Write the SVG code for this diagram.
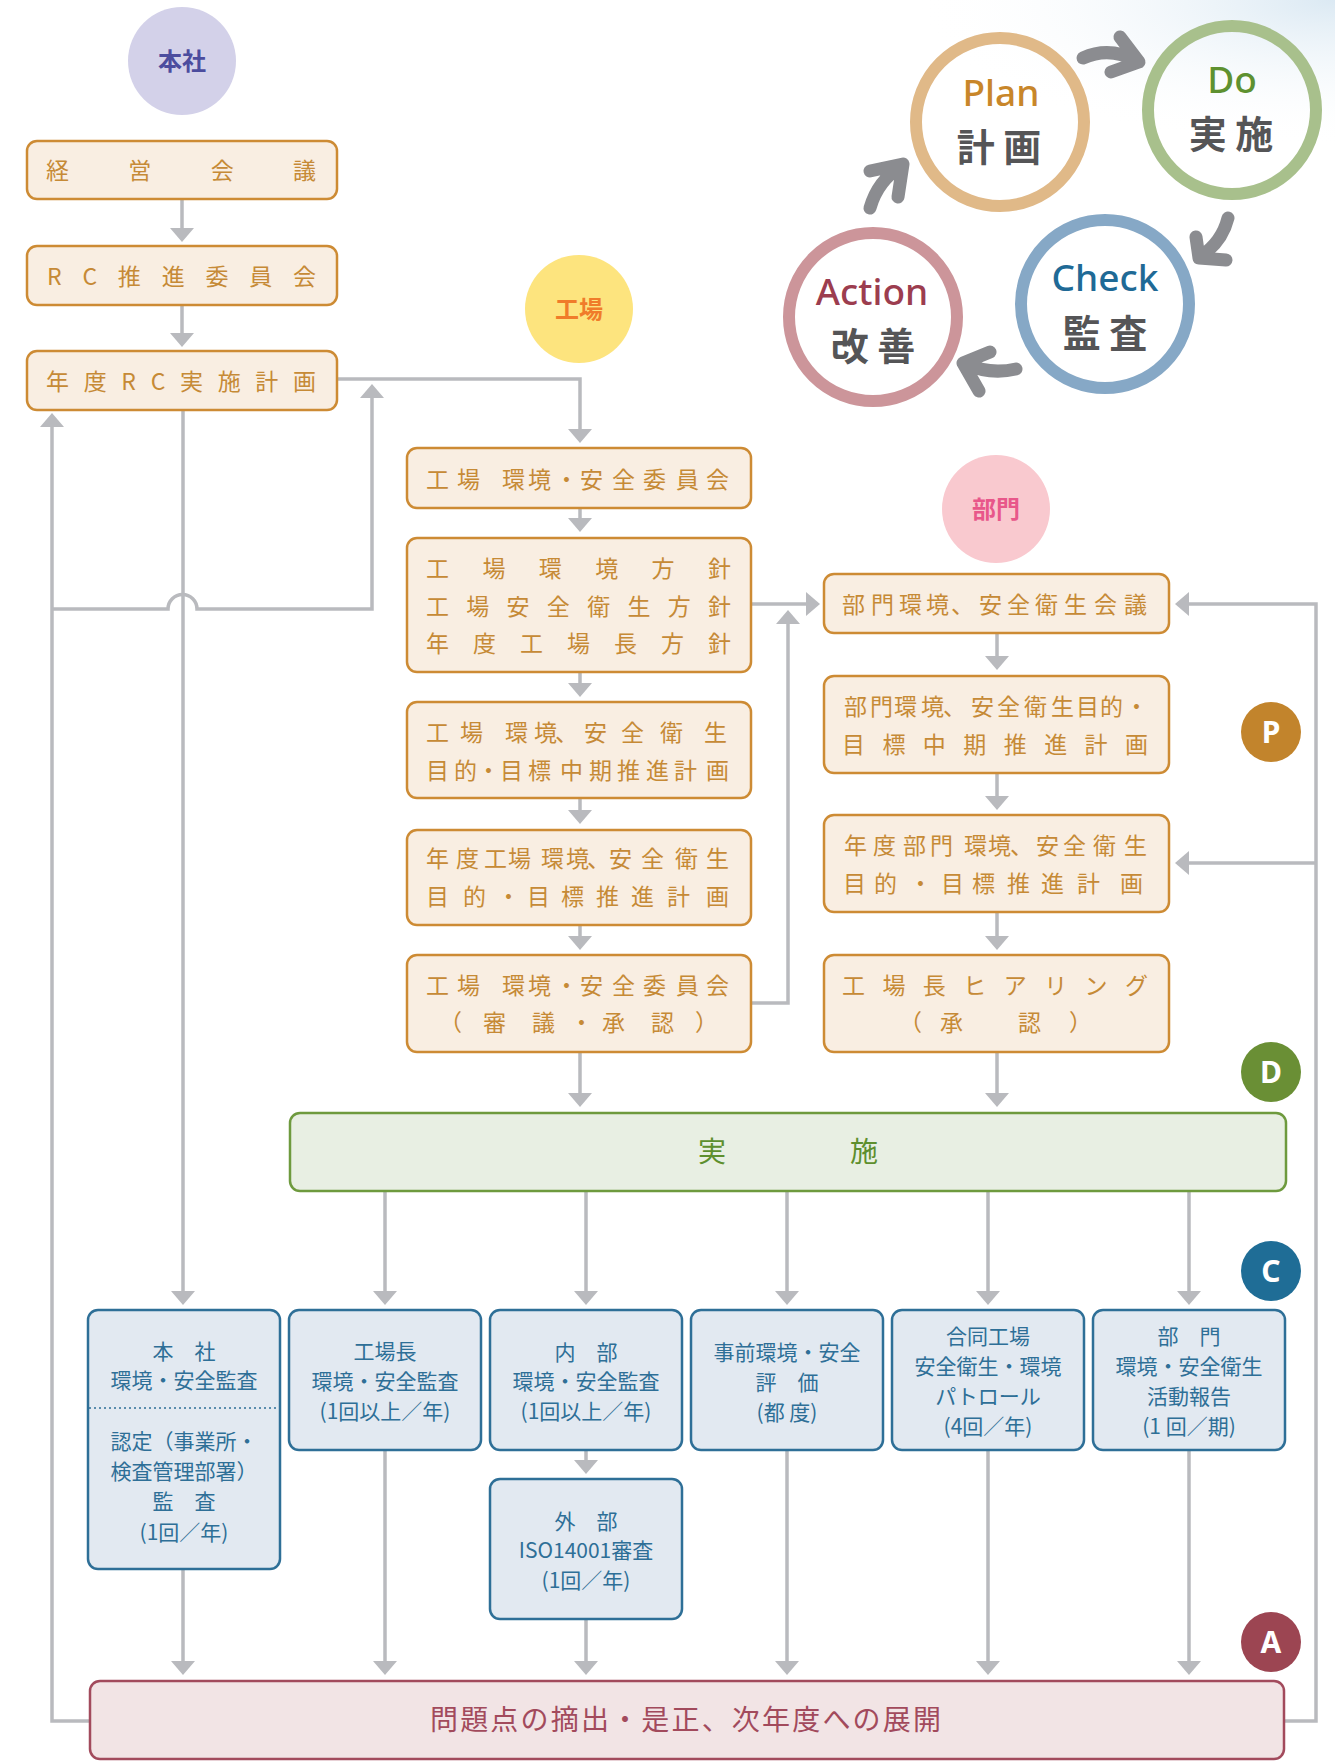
<svg xmlns="http://www.w3.org/2000/svg" width="1335" height="1763" viewBox="0 0 1335 1763">
<defs>
<style>
text{font-family:'Noto Sans CJK JP','Noto Sans',sans-serif;}
.ob{fill:#f9eee2;stroke:#cd8b34;stroke-width:2.5;}
.ot{fill:#c68a36;font-size:23px;}
.bb{fill:#e2e9f1;stroke:#2e6f97;stroke-width:2.5;}
.bt{fill:#2e6f97;font-size:21px;text-anchor:middle;}
.cn{fill:none;stroke:#b9babe;stroke-width:3.5;}
.arr{marker-end:url(#ah);}
.pdca{fill:none;stroke-width:12;}
.ga{fill:none;stroke:#8b8c90;stroke-width:13;stroke-linecap:round;stroke-linejoin:round;}
.lt{font-family:'Noto Sans',sans-serif;font-size:37px;text-anchor:middle;font-weight:500;}
.jt{fill:#555557;font-size:38px;font-weight:700;text-anchor:middle;}
.badge{fill:#fff;font-size:30px;font-weight:700;text-anchor:middle;font-family:'Noto Sans',sans-serif;}
.lbl{font-size:24px;font-weight:700;text-anchor:middle;}
</style>
<marker id="ah" markerUnits="userSpaceOnUse" viewBox="0 0 14 24" refX="2" refY="12" markerWidth="14" markerHeight="24" orient="auto"><path d="M0,0 L14,12 L0,24 Z" fill="#b9babe"/></marker>
<radialGradient id="glow" cx="1335" cy="0" r="420" gradientUnits="userSpaceOnUse" gradientTransform="translate(1335 0) scale(1 0.35) translate(-1335 0)">
<stop offset="0" stop-color="#dbe9f3"/><stop offset="1" stop-color="#ffffff" stop-opacity="0"/>
</radialGradient>
</defs>
<rect x="0" y="0" width="1335" height="1763" fill="#ffffff"/>
<rect x="800" y="0" width="535" height="160" fill="url(#glow)"/>

<!-- PDCA cycle -->
<g id="pdca">
<circle class="pdca" cx="1000" cy="122" r="84" stroke="#e0b988"/>
<circle class="pdca" cx="1232" cy="110" r="84" stroke="#a8c08c"/>
<circle class="pdca" cx="1105" cy="304" r="84" stroke="#86a8c6"/>
<circle class="pdca" cx="873" cy="317" r="84" stroke="#cc959a"/>
<path class="ga" d="M1083,58 Q1110,46 1136,61 M1120,37 L1139,62 L1111,72"/>
<path class="ga" d="M1228,218 Q1222,242 1201,256 M1196,237 L1199,258 L1226,260"/>
<path class="ga" d="M1016,369 Q990,375 966,364 M990,352 L963,363 L979,391"/>
<path class="ga" d="M870,208 Q878,180 902,166 M870,171 L903,164 L898,197"/>
<text class="lt" x="1001" y="106" fill="#c8862a">Plan</text>
<text class="jt" x="999" y="161">計 画</text>
<text class="lt" x="1232" y="93" fill="#5e9130">Do</text>
<text class="jt" x="1231" y="148">実 施</text>
<text class="lt" x="1105" y="291" fill="#1f6a96">Check</text>
<text class="jt" x="1105" y="347">監 査</text>
<text class="lt" x="872" y="305" fill="#9c3d4f">Action</text>
<text class="jt" x="873" y="360">改 善</text>
</g>

<!-- Connectors -->
<g id="connectors">
<path class="cn arr" d="M182,199 V230"/>
<path class="cn arr" d="M182,305 V335"/>
<path class="cn arr" d="M337,379 H580 V431"/>
<path class="cn arr" d="M580,508 V520"/>
<path class="cn arr" d="M580,672 V685"/>
<path class="cn arr" d="M580,798 V812"/>
<path class="cn arr" d="M580,925 V938"/>
<path class="cn arr" d="M580,1052 V1095"/>
<path class="cn arr" d="M997,633 V658"/>
<path class="cn arr" d="M997,773 V798"/>
<path class="cn arr" d="M997,912 V938"/>
<path class="cn arr" d="M997,1052 V1095"/>
<path class="cn arr" d="M751,604 H808"/>
<path class="cn arr" d="M751,1003 H788 V622"/>
<path class="cn arr" d="M183,410 V1293"/>
<path class="cn arr" d="M90,1721 H52 V425"/>
<path class="cn arr" d="M52,609 H168 A14,14 0 0 1 197,609 H372 V396"/>
<path class="cn arr" d="M1284,1721 H1316 V604 H1187"/>
<path class="cn arr" d="M1316,863 H1187"/>
<path class="cn arr" d="M385,1191 V1293"/>
<path class="cn arr" d="M586,1191 V1293"/>
<path class="cn arr" d="M787,1191 V1293"/>
<path class="cn arr" d="M988,1191 V1293"/>
<path class="cn arr" d="M1189,1191 V1293"/>
<path class="cn arr" d="M183,1569 V1663"/>
<path class="cn arr" d="M385,1450 V1663"/>
<path class="cn arr" d="M586,1450 V1462"/>
<path class="cn arr" d="M586,1619 V1663"/>
<path class="cn arr" d="M787,1450 V1663"/>
<path class="cn arr" d="M988,1450 V1663"/>
<path class="cn arr" d="M1189,1450 V1663"/>
</g>

<!-- Section labels -->
<g id="label-honsha">
<circle cx="182" cy="61" r="54" fill="#d3d1e9"/>
<text class="lbl" x="182" y="70" fill="#4b4c9e">本社</text>
</g>
<g id="label-kojo">
<circle cx="579" cy="309" r="54" fill="#fde47e"/>
<text class="lbl" x="579" y="318" fill="#f07c2a">工場</text>
</g>
<g id="label-bumon">
<circle cx="996" cy="509" r="54" fill="#f9c9cf"/>
<text class="lbl" x="996" y="518" fill="#e8578a">部門</text>
</g>
<g id="badge-p"><circle cx="1271" cy="732" r="30" fill="#c2842c"/><text class="badge" x="1271" y="743">P</text></g>
<g id="badge-d"><circle cx="1271" cy="1072" r="30" fill="#6a8f35"/><text class="badge" x="1271" y="1083">D</text></g>
<g id="badge-c"><circle cx="1271" cy="1271" r="30" fill="#1f6d96"/><text class="badge" x="1271" y="1282">C</text></g>
<g id="badge-a"><circle cx="1271" cy="1642" r="30" fill="#9c4552"/><text class="badge" x="1271" y="1653">A</text></g>

<!-- Head office column -->
<g id="keiei">
<rect class="ob" x="27" y="141" width="310" height="58" rx="10"/>
<text class="ot" x="46" y="178.5" textLength="270" lengthAdjust="spacing">経営会議</text>
</g>
<g id="rc-iinkai">
<rect class="ob" x="27" y="246" width="310" height="59" rx="10"/>
<text class="ot" x="47" y="284.5" textLength="269" lengthAdjust="spacing">RC推進委員会</text>
</g>
<g id="rc-plan">
<rect class="ob" x="27" y="351" width="310" height="59" rx="10"/>
<text class="ot" x="46" y="389.5" textLength="270" lengthAdjust="spacing">年度RC実施計画</text>
</g>

<!-- Factory column -->
<g id="kojo-iinkai">
<rect class="ob" x="407" y="448" width="344" height="60" rx="10"/>
<text class="ot" x="426 457 502 528 555 580 612 643 676 706" y="487.5">工場環境・安全委員会</text>
</g>
<g id="kojo-hoshin">
<rect class="ob" x="407" y="538" width="344" height="134" rx="10"/>
<text class="ot" x="426" y="576.5" textLength="305" lengthAdjust="spacing">工場環境方針</text>
<text class="ot" x="426" y="614.5" textLength="305" lengthAdjust="spacing">工場安全衛生方針</text>
<text class="ot" x="426" y="651.5" textLength="305" lengthAdjust="spacing">年度工場長方針</text>
</g>
<g id="kojo-chuki">
<rect class="ob" x="407" y="702" width="344" height="96" rx="10"/>
<text class="ot" x="426 460 505 534 555 584 621 660 704" y="740.5">工場環境、安全衛生</text>
<text class="ot" x="426 454 477 500 528 560 589 617 646 674 706" y="778.5">目的・目標中期推進計画</text>
</g>
<g id="kojo-nendo">
<rect class="ob" x="407" y="830" width="344" height="95" rx="10"/>
<text class="ot" x="426 456 484 508 541 566 587 609 641 675 706" y="866.5">年度工場環境、安全衛生</text>
<text class="ot" x="426 463 497 527 561 596 631 667 706" y="904.5">目的・目標推進計画</text>
</g>
<g id="kojo-shingi">
<rect class="ob" x="407" y="955" width="344" height="97" rx="10"/>
<text class="ot" x="426 457 502 528 555 580 612 643 676 706" y="993.5">工場環境・安全委員会</text>
<text class="ot" x="439 483 532 570 602 651 695" y="1030.5">（審議・承認）</text>
</g>

<!-- Department column -->
<g id="bumon-kaigi">
<rect class="ob" x="824" y="574" width="345" height="59" rx="10"/>
<text class="ot" x="842 871 899 926 951 979 1007 1035 1064 1094 1124" y="612.5">部門環境、安全衛生会議</text>
</g>
<g id="bumon-chuki">
<rect class="ob" x="824" y="676" width="345" height="97" rx="10"/>
<text class="ot" x="844 870 894 921 943 971 997 1024 1051 1076 1100 1125" y="714.5">部門環境、安全衛生目的・</text>
<text class="ot" x="842" y="752.5" textLength="306" lengthAdjust="spacing">目標中期推進計画</text>
</g>
<g id="bumon-nendo">
<rect class="ob" x="824" y="815" width="345" height="97" rx="10"/>
<text class="ot" x="844 873 903 930 964 988 1010 1036 1063 1093 1124" y="853.5">年度部門環境、安全衛生</text>
<text class="ot" x="843 874 909 941 972 1007 1041 1077 1120" y="891.5">目的・目標推進計画</text>
</g>
<g id="hearing">
<rect class="ob" x="824" y="955" width="345" height="97" rx="10"/>
<text class="ot" x="842" y="993.5" textLength="306" lengthAdjust="spacing">工場長ヒアリング</text>
<text class="ot" x="899 940 1018 1069" y="1030.5">（承認）</text>
</g>

<!-- Implementation -->
<g id="jisshi">
<rect x="290" y="1113" width="996" height="78" rx="10" fill="#e8efe3" stroke="#6e9a3e" stroke-width="2.5"/>
<text x="698 850" y="1162" fill="#5e8f2e" font-size="28">実施</text>
</g>

<!-- Check boxes -->
<g id="audit-honsha">
<rect class="bb" x="88" y="1310" width="192" height="259" rx="10"/>
<text class="bt" x="184" y="1359">本　社</text>
<text class="bt" x="184" y="1388">環境・安全監査</text>
<line x1="89" y1="1408" x2="279" y2="1408" stroke="#2e6f97" stroke-width="1.5" stroke-dasharray="2 3"/>
<text class="bt" x="184" y="1449">認定（事業所・</text>
<text class="bt" x="184" y="1479">検査管理部署）</text>
<text class="bt" x="184" y="1509">監　査</text>
<text class="bt" x="184" y="1540">(1回／年)</text>
</g>
<g id="audit-kojocho">
<rect class="bb" x="289" y="1310" width="192" height="140" rx="10"/>
<text class="bt" x="385" y="1359">工場長</text>
<text class="bt" x="385" y="1389">環境・安全監査</text>
<text class="bt" x="385" y="1419">(1回以上／年)</text>
</g>
<g id="audit-naibu">
<rect class="bb" x="490" y="1310" width="192" height="140" rx="10"/>
<text class="bt" x="586" y="1360">内　部</text>
<text class="bt" x="586" y="1389">環境・安全監査</text>
<text class="bt" x="586" y="1419">(1回以上／年)</text>
</g>
<g id="audit-gaibu">
<rect class="bb" x="490" y="1479" width="192" height="140" rx="10"/>
<text class="bt" x="586" y="1529">外　部</text>
<text class="bt" x="586" y="1558">ISO14001審査</text>
<text class="bt" x="586" y="1588">(1回／年)</text>
</g>
<g id="audit-jizen">
<rect class="bb" x="691" y="1310" width="192" height="140" rx="10"/>
<text class="bt" x="787" y="1360">事前環境・安全</text>
<text class="bt" x="787" y="1390">評　価</text>
<text class="bt" x="787" y="1420">(都 度)</text>
</g>
<g id="audit-patrol">
<rect class="bb" x="892" y="1310" width="192" height="140" rx="10"/>
<text class="bt" x="988" y="1344">合同工場</text>
<text class="bt" x="988" y="1374">安全衛生・環境</text>
<text class="bt" x="988" y="1404">パトロール</text>
<text class="bt" x="988" y="1434">(4回／年)</text>
</g>
<g id="audit-bumon">
<rect class="bb" x="1093" y="1310" width="192" height="140" rx="10"/>
<text class="bt" x="1189" y="1344">部　門</text>
<text class="bt" x="1189" y="1374">環境・安全衛生</text>
<text class="bt" x="1189" y="1404">活動報告</text>
<text class="bt" x="1189" y="1434">(1 回／期)</text>
</g>

<!-- Action -->
<g id="action">
<rect x="90" y="1681" width="1194" height="78" rx="10" fill="#f2e4e5" stroke="#a24a5c" stroke-width="2.5"/>
<text x="430" y="1730" fill="#a24a5c" font-size="28" textLength="511" lengthAdjust="spacing">問題点の摘出・是正、次年度への展開</text>
</g>
</svg>
